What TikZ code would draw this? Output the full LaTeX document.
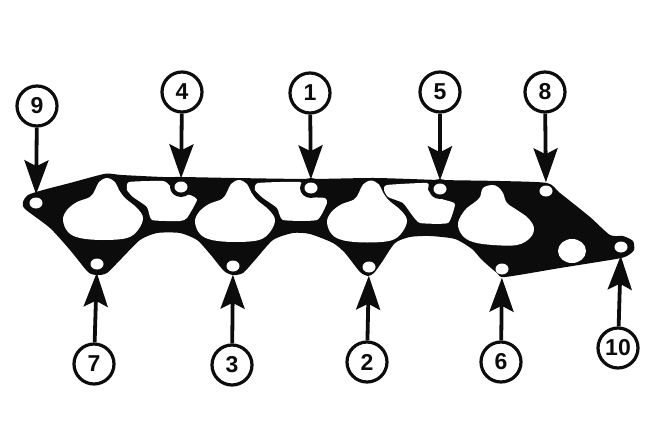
\documentclass[tikz,border=0pt]{standalone}
\usepackage{fontspec}
\setmainfont{Liberation Sans}
\usetikzlibrary{arrows.meta,shapes.geometric}
\definecolor{ink}{HTML}{0C0C0C}
\tikzset{
  num/.style={circle,draw=ink,line width=3.2pt,fill=white,minimum size=40pt,inner sep=0pt,font=\fontsize{23}{23}\bfseries,text=ink},
  bolt/.style={ellipse,fill=white,inner sep=0pt,minimum width=13pt,minimum height=11pt},
  pointer/.style={draw=ink,line width=3.8pt,-{Stealth[length=34pt,width=24pt,inset=6pt]},shorten >=3pt},
  opening/.style={fill=white,draw=none}
}
\begin{document}
\begin{tikzpicture}[x=1pt,y=-1pt]
\useasboundingbox (0,0) rectangle (654,439);
% gasket body
\fill[ink] plot[smooth cycle,tension=0.4] coordinates {
 (23,202)(28,195)(43,190)(70,183)(92,177)(107,173.5)(122,175)(163,177)(182,177)(235,178)(310,179)(375,178)(440,180)(500,181)(547,183)(560,193)(590,217)(610,235)(623,236)(633,241)(634,250)(627,256)(616,259)(560,268)(505,277)(497,273)(482,260)(472,249)(455,239)(430,236)(410,237)(395,243)(382,262)(374,273)(368,276)(360,272)(345,253)(333,243)(310,234)(293,233)(273,240)(255,260)(243,273)(233,275)(224,271)(210,254)(197,240)(180,233)(157,233)(140,240)(122,258)(107,273)(97,275)(88,272)(70,250)(50,228)(25,209)};
% ports
\foreach \dx/\dy in {0/0,132/2,264/2.5}{
\fill[opening,shift={(\dx,\dy)}] plot[smooth cycle,tension=0.6] coordinates {(107,178)(99,182)(95,190)(90,197)(77,202)(67,210)(63,220)(68,232)(80,238)(103,240)(127,238)(138,230)(143,218)(137,208)(125,198)(119,190)(115,182)};
}
\fill[opening] plot[smooth cycle,tension=0.6] coordinates {(492,185)(483,188)(480,197)(475,202)(465,210)(458,223)(462,235)(473,242)(493,245)(517,245)(530,238)(534,228)(528,218)(517,210)(507,203)(503,193)(498,187)};
% intermediate openings
\fill[opening] plot[smooth cycle,tension=0.3] coordinates {(129,182)(163,181)(170,186)(173,193)(190,195)(197,200)(187,218)(180,221)(152,220)(147,207)(133,197)(127,190)};
\fill[opening] plot[smooth cycle,tension=0.3] coordinates {(258,183)(300,182)(303,190)(312,197)(325,198)(327,203)(317,220)(283,220)(277,208)(263,198)(255,190)};
\fill[opening] plot[smooth cycle,tension=0.3] coordinates {(387,185)(427,183)(428,190)(435,197)(452,202)(455,205)(448,223)(420,223)(412,215)(403,203)(388,197)(384,190)};
% big hole
\fill[opening] (572,251) ellipse [x radius=14,y radius=12];
% bolt surrounds
\fill[ink] (181,187) ellipse [x radius=11,y radius=10];
\fill[ink] (311,188) ellipse [x radius=11,y radius=10];
\fill[ink] (440,189) ellipse [x radius=11,y radius=10];
% bolt holes
\node[bolt] (h9) at (36,203) {};
\node[bolt] (h4) at (181,187) {};
\node[bolt] (h1) at (311,188) {};
\node[bolt] (h5) at (440,189) {};
\node[bolt] (h8) at (546,191) {};
\node[bolt] (h7) at (97,264) {};
\node[bolt] (h3) at (233,266) {};
\node[bolt] (h2) at (369,267) {};
\node[bolt] (h6) at (502,269) {};
\node[bolt] (h10) at (621,247) {};
% labels
\node[num] (n9) at (37,106) {9};
\node[num] (n4) at (182,92) {4};
\node[num] (n1) at (310,93) {1};
\node[num] (n5) at (440,92) {5};
\node[num] (n8) at (545,92) {8};
\node[num] (n7) at (94,364) {7};
\node[num] (n3) at (232,365) {3};
\node[num] (n2) at (367,362) {2};
\node[num] (n6) at (501,362) {6};
\node[num] (n10) at (618,348) {10};
% arrows
\foreach \a/\b in {n9/h9,n4/h4,n1/h1,n5/h5,n8/h8,n7/h7,n3/h3,n2/h2,n6/h6,n10/h10}
  \draw[pointer] (\a) -- (\b);
\end{tikzpicture}
\end{document}
